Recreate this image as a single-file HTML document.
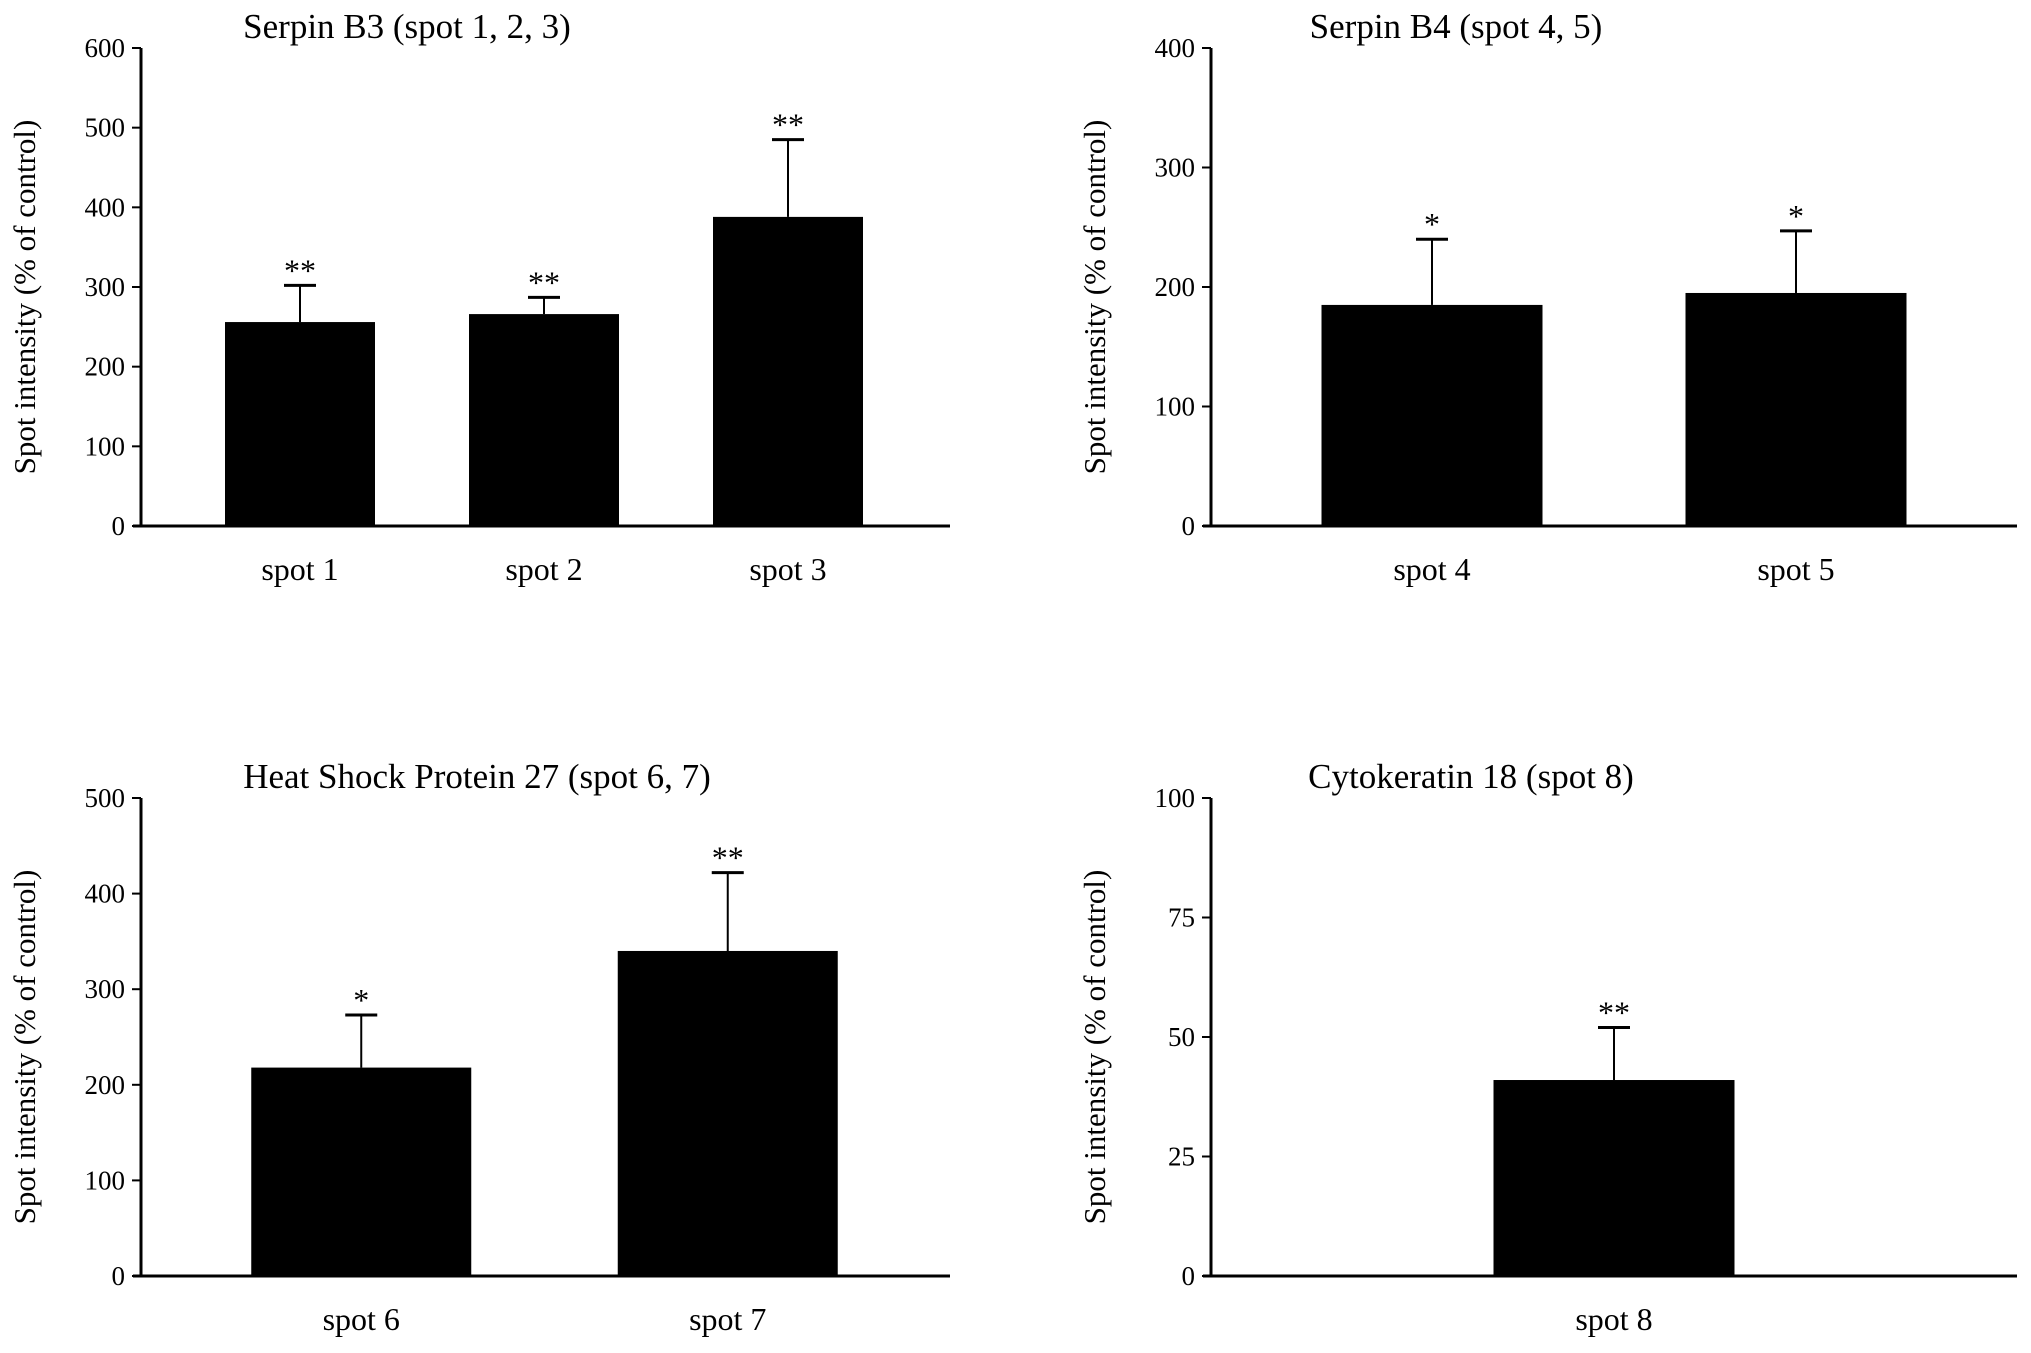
<!DOCTYPE html>
<html><head><meta charset="utf-8"><style>
html,body{margin:0;padding:0;background:#fff}
svg text{font-family:"Liberation Serif",serif;fill:#000}
</style></head><body>
<svg id="chart" width="2031" height="1348" viewBox="0 0 2031 1348" xmlns="http://www.w3.org/2000/svg"></svg>
<script>
const titles = ["Serpin B3 (spot 1, 2, 3)", "Serpin B4 (spot 4, 5)", "Heat Shock Protein 27 (spot 6, 7)", "Cytokeratin 18 (spot 8)"];
const categories1 = ["spot 1", "spot 2", "spot 3"];
const values1 = [256, 266, 388];
const errors1 = [46, 21, 97];
const stars1 = ["**", "**", "**"];
const ticks1 = [0, 100, 200, 300, 400, 500, 600];
const categories2 = ["spot 4", "spot 5"];
const values2 = [185, 195];
const errors2 = [55, 52];
const stars2 = ["*", "*"];
const ticks2 = [0, 100, 200, 300, 400];
const categories3 = ["spot 6", "spot 7"];
const values3 = [218, 340];
const errors3 = [55, 82];
const stars3 = ["*", "**"];
const ticks3 = [0, 100, 200, 300, 400, 500];
const categories4 = ["spot 8"];
const values4 = [41];
const errors4 = [11];
const stars4 = ["**"];
const ticks4 = [0, 25, 50, 75, 100];

const svg = document.getElementById('chart');
const NS = 'http://www.w3.org/2000/svg';
function mk(tag, attrs, parent) {
  const e = document.createElementNS(NS, tag);
  for (const k in attrs) e.setAttribute(k, attrs[k]);
  (parent || svg).appendChild(e);
  return e;
}
function panel(p) {
  const g = mk('g', {});
  
  
  const ymax = p.ticks[p.ticks.length - 1];
  const y = v => p.y0 - (v / ymax) * (p.y0 - p.y1);
  const t = mk('text', {x: p.titleX, y: p.y1 - 10, 'font-size': 35, 'text-anchor': 'middle'}, g);
  t.textContent = p.title;
  
  
  const ya = mk('line', {x1: p.ax, y1: p.y1, x2: p.ax, y2: p.y0, stroke: '#000', 'stroke-width': 3}, g);
  
  
  const xa = mk('line', {x1: p.ax - 8, y1: p.y0, x2: p.xEnd, y2: p.y0, stroke: '#000', 'stroke-width': 3}, g);
  
  
  p.ticks.forEach(v => {
    mk('line', {x1: p.ax - 9, y1: y(v), x2: p.ax, y2: y(v), stroke: '#000', 'stroke-width': 2}, g);
    const tl = mk('text', {x: p.ax - 16, y: y(v) + 9, 'font-size': 27, 'text-anchor': 'end'}, g);
    tl.textContent = v;
    
    
  });
  const yt = mk('text', {x: 0, y: 0, 'font-size': 31, 'text-anchor': 'middle', transform: `translate(${p.ax - 106},${(p.y0 + p.y1) / 2 + 10}) rotate(-90)`}, g);
  yt.textContent = 'Spot intensity (% of control)';
  
  
  p.cats.forEach((c, i) => {
    const cx = p.bandStart + p.step * (i + 0.5);
    const bw = p.bw;
    const top = y(p.vals[i]);
    const r = mk('rect', {x: cx - bw / 2, y: top, width: bw, height: p.y0 - top, fill: '#000'}, g);
    
    
    const et = y(p.vals[i] + p.errs[i]);
    mk('line', {x1: cx, y1: top, x2: cx, y2: et, stroke: '#000', 'stroke-width': 2}, g);
    const cap = mk('line', {x1: cx - 16, y1: et, x2: cx + 16, y2: et, stroke: '#000', 'stroke-width': 3}, g);
    
    
    const s = mk('text', {x: cx, y: et - 4, 'font-size': 32, 'text-anchor': 'middle'}, g);
    s.textContent = p.stars[i];
    
    
    const cl = mk('text', {x: cx, y: p.y0 + 54, 'font-size': 32, 'text-anchor': 'middle'}, g);
    cl.textContent = c;
    
    
  });
}
panel({name: 'panel-serpin-b3', title: titles[0], titleX: 407, ax: 141, xEnd: 950, y1: 48, y0: 526, ticks: ticks1, cats: categories1, vals: values1, errs: errors1, stars: stars1, bandStart: 178, step: 244, bw: 150});
panel({name: 'panel-serpin-b4', title: titles[1], titleX: 1456, ax: 1211, xEnd: 2017, y1: 48, y0: 526, ticks: ticks2, cats: categories2, vals: values2, errs: errors2, stars: stars2, bandStart: 1250, step: 364, bw: 221});
panel({name: 'panel-hsp27', title: titles[2], titleX: 477, ax: 141, xEnd: 950, y1: 798, y0: 1276, ticks: ticks3, cats: categories3, vals: values3, errs: errors3, stars: stars3, bandStart: 178, step: 366.5, bw: 220});
panel({name: 'panel-cytokeratin-18', title: titles[3], titleX: 1471, ax: 1211, xEnd: 2017, y1: 798, y0: 1276, ticks: ticks4, cats: categories4, vals: values4, errs: errors4, stars: stars4, bandStart: 1211, step: 806, bw: 241});
</script>
</body></html>
